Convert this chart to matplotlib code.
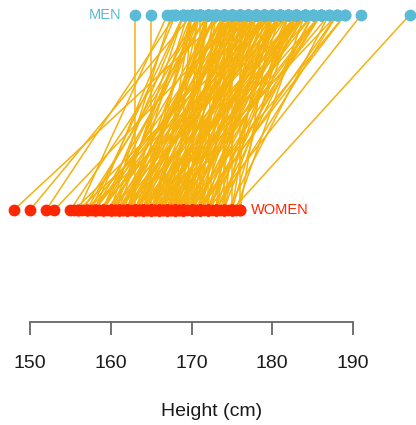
import matplotlib
matplotlib.use('Agg')
from matplotlib import pyplot as plt

plt.rcParams['font.family'] = ['Liberation Sans', 'DejaVu Sans']

# couples: women[i] is paired with men[i] (height in cm)
women = [148, 150, 152, 153, 155, 156, 156.5, 157, 157.5, 158,
         158, 158.5, 159, 159, 159.5, 160, 160, 160.5, 160.5, 161,
         161, 161.5, 161.5, 162, 162, 162, 162.5, 163, 163, 163,
         163.5, 163.5, 164, 164, 164, 164.5, 164.5, 165, 165, 165,
         165, 165.5, 165.5, 166, 166, 166, 166.5, 166.5, 167, 167,
         167, 167.5, 167.5, 168, 168, 168, 168.5, 168.5, 169, 169,
         169, 169.5, 170, 170, 170, 170.5, 170.5, 171, 171, 171.5,
         172, 172, 172.5, 173, 173, 173.5, 174, 174, 174.5, 175,
         175, 175.5, 176,
         158, 159, 160, 160, 161, 161, 162, 162, 162, 163,
         163, 163, 163, 164, 164, 164, 164, 165, 165, 165,
         165, 165, 166, 166, 166, 166, 166, 167, 167, 167,
         167, 168, 168, 168, 168, 168, 169, 169, 169, 169,
         170, 170, 170, 170, 171, 171, 171, 171, 172, 172,
         172, 173, 173, 173, 174, 174, 175, 175, 176, 157,
         158, 159, 160, 161, 162, 167, 169, 170, 172, 171,
         155.5, 156, 157]
men = [174, 170, 168, 176, 171, 167, 172, 178, 169, 175,
       168, 180, 171, 173, 177, 167.5, 182, 170, 175, 178,
       169, 173, 184, 176, 171, 179, 174, 163, 177, 181,
       170, 175, 183, 172, 178, 176, 186, 165, 174, 180,
       177, 171, 182, 175, 179, 185, 173, 178, 176, 181,
       187, 174, 179, 177, 183, 172, 180, 176, 184, 178,
       174, 181, 179, 186, 175, 182, 189, 177, 188, 180,
       191, 183, 178, 185, 176, 182, 174, 180, 187, 197,
       175, 184, 176,
       172, 176, 174, 179, 176, 181, 173, 178, 183, 172,
       175, 179, 185, 170, 175, 180, 184, 172, 176, 179,
       183, 188, 170, 174, 177, 181, 184, 172, 175, 178,
       183, 170, 174, 178, 181, 186, 172, 176, 180, 183,
       173, 177, 181, 184, 174, 179, 183, 186, 175, 180,
       185, 178, 181, 188, 177, 183, 179, 182, 180, 171,
       177, 169, 171, 174, 169.5, 186, 189, 170.5, 172.5, 171,
       180, 182, 184]

ticks = [150, 160, 170, 180, 190]

men_col = '#5bbad5'
women_col = '#ff2600'
line_col = '#f5b20f'

fig = plt.figure(figsize=(4.16, 4.25), dpi=100)
# y: 0 = women row, 1 = men row
ax = fig.add_axes([0, 1 - 210 / 425, 1, 195 / 425])
ax.set_xlim(146.285, 197.8)
ax.set_ylim(0, 1)
ax.axis('off')

for w, m in zip(women, men):
    ax.plot([w, m], [0, 1], color=line_col, lw=1.1, zorder=1, clip_on=False)
ax.scatter(men, [1] * len(men), s=72, color=men_col, zorder=3, clip_on=False, lw=0)
ax.scatter(women, [0] * len(women), s=72, color=women_col, zorder=3, clip_on=False, lw=0)

ax.annotate('MEN', (min(men), 1), xytext=(-10, 0), textcoords='offset points',
            ha='right', va='center', color=men_col, fontsize=10.5)
ax.annotate('WOMEN', (max(women), 0), xytext=(8, 0), textcoords='offset points',
            ha='left', va='center', color=women_col, fontsize=10.5)

# R-style axis below the plot
ax2 = fig.add_axes([0, 1 - 322 / 425, 1, 0.001])
ax2.set_xlim(ax.get_xlim())
ax2.set_yticks([])
for s in ['left', 'right', 'top']:
    ax2.spines[s].set_visible(False)
ax2.spines['bottom'].set_bounds(ticks[0], ticks[-1])
ax2.spines['bottom'].set_color('#666666')
ax2.spines['bottom'].set_linewidth(1.3)
ax2.set_xticks(ticks)
ax2.tick_params(axis='x', direction='out', length=9.5, width=1.3, color='#666666',
                pad=14, labelsize=14, labelcolor='#1a1a1a')
ax2.patch.set_visible(False)

fig.text(212 / 416, 1 - 411 / 425, 'Height (cm)', ha='center', va='center',
         fontsize=14, color='#1a1a1a')

fig.savefig('out.png', dpi=100)
